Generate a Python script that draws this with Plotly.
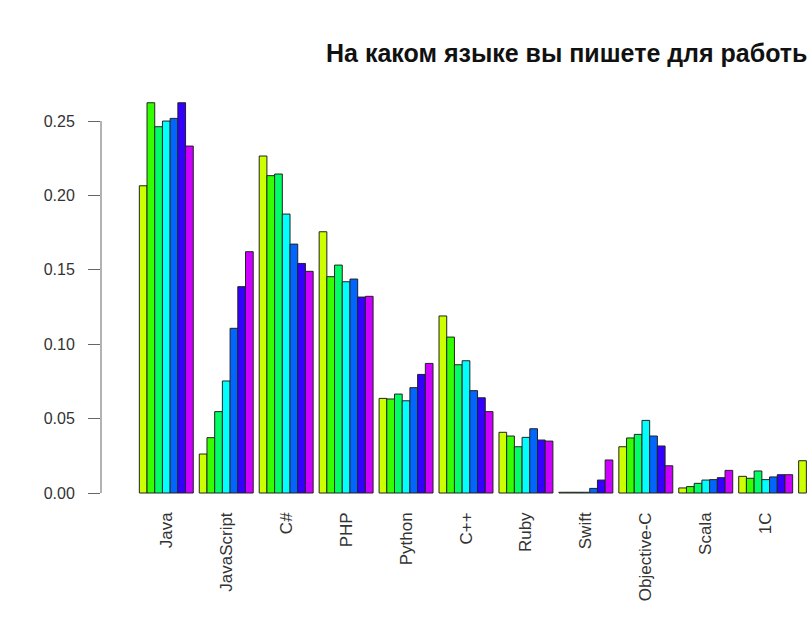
import plotly.graph_objects as go

categories = ["Java", "JavaScript", "C#", "PHP", "Python", "C++", "Ruby",
              "Swift", "Objective-C", "Scala", "1C", "Go"]

series_names = ["Период 1", "Период 2", "Период 3", "Период 4",
                "Период 5", "Период 6", "Период 7"]

# values[series][category]
s1 = [0.2065, 0.0262, 0.2265, 0.1756, 0.0636, 0.1190, 0.0408, 0.0005, 0.0311, 0.0034, 0.0112, 0.0217]
s2 = [0.2623, 0.0372, 0.2133, 0.1454, 0.0632, 0.1048, 0.0383, 0.0005, 0.0370, 0.0043, 0.0099, None]
s3 = [0.2462, 0.0547, 0.2144, 0.1532, 0.0665, 0.0862, 0.0311, 0.0005, 0.0394, 0.0065, 0.0148, None]
s4 = [0.2500, 0.0753, 0.1875, 0.1420, 0.0620, 0.0889, 0.0374, 0.0005, 0.0488, 0.0087, 0.0090, None]
s5 = [0.2518, 0.1107, 0.1673, 0.1438, 0.0708, 0.0688, 0.0432, 0.0031, 0.0383, 0.0090, 0.0108, None]
s6 = [0.2623, 0.1387, 0.1543, 0.1317, 0.0797, 0.0640, 0.0356, 0.0087, 0.0316, 0.0103, 0.0123, None]
s7 = [0.2332, 0.1622, 0.1490, 0.1322, 0.0871, 0.0547, 0.0349, 0.0222, 0.0183, 0.0152, 0.0123, None]
series_values = [s1, s2, s3, s4, s5, s6, s7]

colors = ["#CCFF00", "#33FF00", "#00FF66", "#00FFFF", "#0066FF", "#3300FF", "#CC00FF"]

y_ticks = [0.0, 0.05, 0.10, 0.15, 0.20, 0.25]
title_text = "На каком языке вы пишете для работы?"

x_pos = list(range(len(categories)))

fig = go.Figure()
for name, vals, col in zip(series_names, series_values, colors):
    fig.add_trace(go.Bar(
        x=x_pos, y=vals, name=name,
        marker=dict(color=col, line=dict(color="#222222", width=1)),
    ))

fig.update_layout(
    width=807, height=625,
    margin=dict(l=101, r=0, t=80, b=125),
    paper_bgcolor="white", plot_bgcolor="white",
    barmode="group", bargap=0.1, bargroupgap=0,
    showlegend=False,
    font=dict(family="Liberation Sans, Arial, sans-serif", color="#333333"),
)

fig.update_xaxes(
    range=[-1.0894, 10.689],
    tickmode="array", tickvals=x_pos, ticktext=categories,
    tickangle=-90, tickfont=dict(size=17, color="#333333"),
    showline=False, showgrid=False, zeroline=False, ticks="",
    ticklabelstandoff=8,
)

fig.update_yaxes(
    range=[-0.0047, 0.2776],
    tickmode="array", tickvals=y_ticks, tickformat=".2f",
    ticks="outside", ticklen=12, tickcolor="#666666", tickwidth=1,
    tickfont=dict(size=16, color="#333333"),
    showline=False, showgrid=False, zeroline=False,
    ticklabelstandoff=10,
)

fig.add_shape(type="line", xref="paper", yref="y", x0=0, x1=0,
              y0=y_ticks[0], y1=y_ticks[-1],
              line=dict(color="#666666", width=1))

fig.add_annotation(
    text="<b>" + title_text + "</b>", xref="paper", yref="paper",
    x=0.3155, y=1.064, xanchor="left", yanchor="middle", showarrow=False,
    font=dict(size=25, color="#111111", family="Liberation Sans, Arial, sans-serif"),
)

fig.write_html("out.html")
